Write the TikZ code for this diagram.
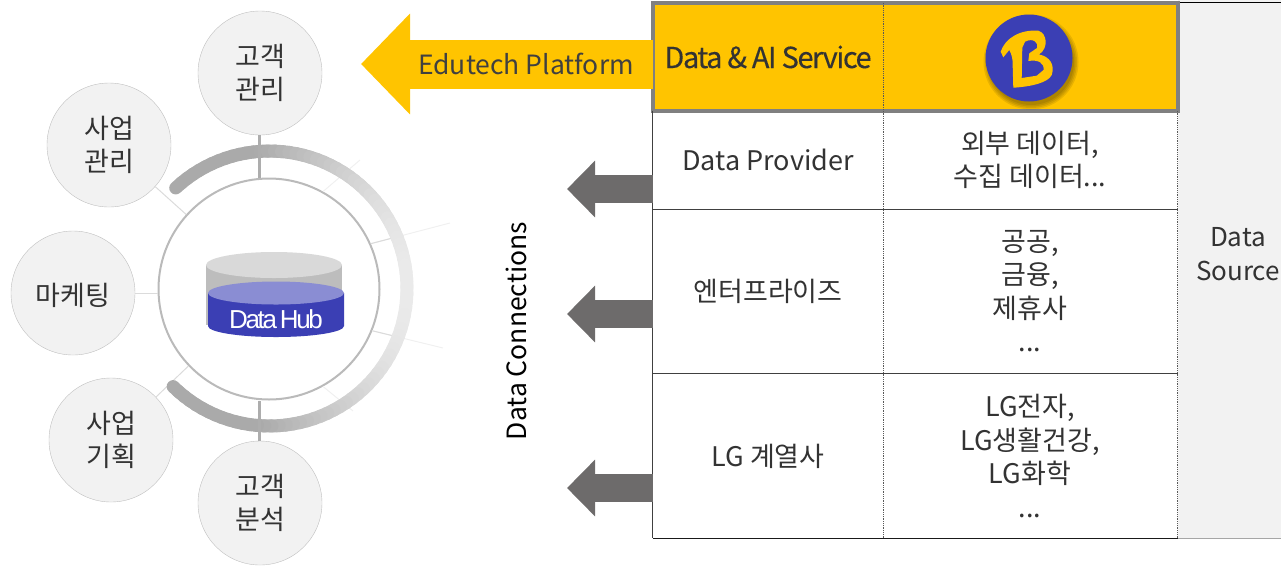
\documentclass[tikz,border=0pt]{standalone}
\usepackage{fontspec}
\usepackage{tikz}
\usepackage{xcolor}
\setmainfont{Noto Sans CJK KR}
\newfontfamily\hubfont[LetterSpace=-9]{Liberation Sans}
\newfontfamily\svcfont[LetterSpace=-5,FakeBold=0.25]{Noto Sans CJK KR}
\usetikzlibrary{arrows.meta}
\usetikzlibrary{calc}
\usetikzlibrary{positioning}
\definecolor{amber}{HTML}{FFC400}
\definecolor{indigo}{HTML}{3B3FB4}
\definecolor{lilac}{HTML}{8A8DD3}
\definecolor{arrowgray}{HTML}{6D6B6B}
\definecolor{inktext}{HTML}{333333}
\definecolor{softgray}{HTML}{F2F2F2}
\definecolor{framegray}{HTML}{808080}

\begin{document}
\begin{tikzpicture}[x=1pt,y=-1pt]
        \tikzstyle{topic}=[circle,draw=black!25,fill=softgray,minimum size=124pt,inner sep=0pt,align=center,text=inktext,font=\fontsize{27}{33}\selectfont,execute at begin node={\rule{0pt}{28pt}}]
        \tikzstyle{cell}=[minimum height=50pt,inner sep=0pt,align=center,text=inktext,font=\fontsize{27}{33.5}\selectfont]
        \tikzstyle{spoke}=[draw=black!32,line width=3pt]
        \tikzstyle{thinspoke}=[draw=black!14,line width=1pt]
        \tikzstyle{faintspoke}=[draw=black!6,line width=1pt]
        \tikzstyle{rowline}=[draw=black!75,line width=1pt]
        \tikzstyle{colline}=[draw=black!65,line width=.8pt,densely dotted]
        \tikzstyle{bigarrow}=[draw=amber,line width=49pt,-{Triangle[length=49pt,width=98pt,fill=amber]}]
        \tikzstyle{grayarrow}=[draw=arrowgray,line width=28pt,-{Triangle[length=28pt,width=55pt,fill=arrowgray]}]
        \tikzstyle{hubring}=[circle,draw=black!27,fill=white,line width=2pt,minimum size=221pt,inner sep=0pt]
        \useasboundingbox (0,0) rectangle (1281,566);

        % data source panel
        \fill[softgray] (1178,0) rectangle (1281,538);
        \draw[black,line width=.8pt] (1180,2) -- (1281,2);
        \draw[black!35,line width=.8pt] (1178,538) -- (1281,538);

        % yellow header
        \path[fill=amber,draw=framegray,line width=4pt] (653,3) rectangle (1178,111);

        % table cells
        \node [cell,minimum width=230pt,minimum height=108pt] (svcname) at (768,57) {\svcfont\fontsize{29}{33}\selectfont Data\,\&\,AI Service};
        \node [cell,minimum width=295pt,minimum height=108pt] (svclogo) at (1030,57) {};
        \node [cell,minimum width=230pt,minimum height=98pt] (prov) at (768,160) {Data Provider};
        \node [cell,minimum width=295pt,minimum height=98pt] (provdata) at (1030,160) {외부 데이터,\\수집 데이터...};
        \node [cell,minimum width=230pt,minimum height=165pt] (ent) at (768,291) {엔터프라이즈};
        \node [cell,minimum width=295pt,minimum height=165pt] (entdata) at (1030,291) {공공,\\금융,\\제휴사\\...};
        \node [cell,minimum width=230pt,minimum height=164pt] (lg) at (768,456) {LG 계열사};
        \node [cell,minimum width=295pt,minimum height=164pt] (lgdata) at (1030,456) {LG전자,\\LG생활건강,\\LG화학\\...};
        \node [cell,font=\fontsize{26}{33.5}\selectfont] (source) at (1238,254) {Data\\Source};

        % table lines
        \path[rowline] (prov.south west) -- (provdata.south east);
        \path[rowline] (ent.south west) -- (entdata.south east);
        \path[rowline,draw=black!90] (lg.south west) -- (lgdata.south east);
        \path[rowline] (prov.north west) -- (lg.south west);
        \path[colline] (svcname.north east) -- (lg.south east);
        \path[colline] (provdata.north east) -- (lgdata.south east);

        % logo
        \foreach \r in {43,44.5,46,47.5} {
          \fill[black,opacity=.09] (1031,62) circle (\r pt);
        }
        \node [circle,fill=indigo,minimum size=87pt,inner sep=0pt] (logo) at (1029,58) {};
        \fill[amber,even odd rule] (1003.3,57.3) -- (1000.7,51.7) .. controls (1005,38.3) and (1020,29.3) .. (1038.3,30.7) .. controls (1047,33) and (1049,48) .. (1039,54.5) .. controls (1050,56.5) and (1055,65) .. (1051.7,75) .. controls (1048,83) and (1030,86.7) .. (1013.3,87.7) -- (1012.7,66.7) .. controls (1013,60) and (1012,55) .. (1009.3,50) -- cycle
          (1022.3,47.7) -- (1025,41.7) .. controls (1033.3,37.3) and (1039,43) .. (1037,48) -- (1029.3,53.3) -- (1028.3,61) .. controls (1038.3,59.3) and (1044.5,63) .. (1043.5,70) -- (1036.7,75.7) -- (1021.7,78) -- cycle;

        % arrows
        \coordinate (edutip) at (361,64);
        \coordinate (provtip) at (567,189);
        \coordinate (enttip) at (567,314);
        \coordinate (lgtip) at (567,488);
        \draw[bigarrow] (svcname.west |- edutip) -- (edutip);
        \draw[grayarrow] (prov.west |- provtip) -- (provtip);
        \draw[grayarrow] (ent.west |- enttip) -- (enttip);
        \draw[grayarrow] (lg.west |- lgtip) -- (lgtip);
        \node [text=black!75,font=\fontsize{26.5}{33}\selectfont] (edulabel) at (526,64) {Edutech Platform};
        \node [rotate=90,text=black,font=\fontsize{26.5}{33}\selectfont] (connlabel) at (516,331) {Data Connections};

        % hub and topics
        \node [hubring] (hub) at (269,289) {};
        \node [topic] (custmgmt) at (260,73) {고객\\관리};
        \node [topic] (bizmgmt) at (109,145) {사업\\관리};
        \node [topic] (mkt) at (73,293) {마케팅};
        \node [topic] (bizplan) at (111,440) {사업\\기획};
        \node [topic] (custana) at (260,503) {고객\\분석};

        \coordinate (free1) at (360,160);
        \coordinate (free2) at (450,223);
        \coordinate (free3) at (443,348);
        \coordinate (free4) at (353,411);
        \path[faintspoke] (hub.61) -- (free1);
        \path[faintspoke] (hub.24) -- (free2);
        \path[faintspoke] (hub.-22) -- (free3);
        \path[faintspoke] (hub.-61) -- (free4);
        \path[thinspoke] (hub.24) -- ($(hub.24)!.4!(free2)$);
        \path[thinspoke] (hub.-22) -- ($(hub.-22)!.4!(free3)$);
        \path[thinspoke] (bizmgmt) -- (hub);
        \path[thinspoke] (mkt.east) -- (mkt.east -| hub.west);
        \path[thinspoke] (bizplan) -- (hub);

        % outer ring, lighter to the right
        \begin{scope}[shift={(269.5,288.5)}]
        \foreach \a in {-133,-130,...,131} {
          \pgfmathtruncatemacro{\g}{170+65*max(0,min(1,(cos(\a)+0.1)/1.1))}
          \draw[color={rgb,255:red,\g;green,\g;blue,\g},line width=13pt,line cap=round] (\a:137.5) -- (\a+3.5:137.5);
        }
        \end{scope}
        \path[spoke] ([xshift=-1pt]custmgmt.south) -- ([xshift=-1pt]custmgmt.south |- hub.north);
        \path[spoke] ([xshift=-1pt]custana.north) -- ([xshift=-1pt]custana.north |- hub.south);

        % database
        \fill[black!26] (206,265) -- (206,325) -- (342,325) -- (342,265) -- cycle;
        \fill[black!15] (274,265) ellipse (68pt and 13pt);
        \fill[indigo] (208,293) -- (208,326) arc (180:360:68pt and 11pt) -- (344,293) -- cycle;
        \fill[lilac] (276,293) ellipse (68pt and 11.5pt);
        \node [text=white,font=\hubfont\fontsize{26}{30}\selectfont] (hublabel) at (276,319) {Data\hspace{-2pt} Hub};
\end{tikzpicture}
\end{document}
